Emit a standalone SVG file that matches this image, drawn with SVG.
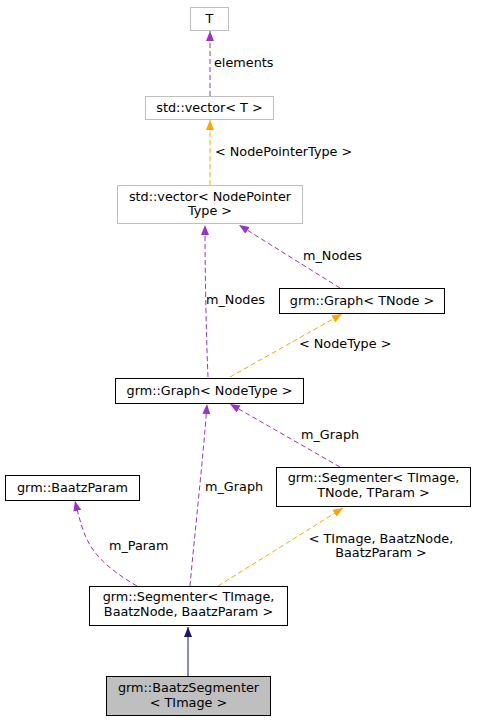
<svg xmlns="http://www.w3.org/2000/svg" width="477" height="723" viewBox="0 0 477 723">
<style>
text{font-family:"DejaVu Sans","Liberation Sans",sans-serif;font-size:12.8px;fill:#000}
.c{text-anchor:middle}
.n{fill:#fff;stroke:#000;stroke-width:1}
.g{fill:#fff;stroke:#bfbfbf;stroke-width:1}
.h{fill:#bfbfbf;stroke:#000;stroke-width:1}
.p{fill:none;stroke:#9a32cd;stroke-width:1;stroke-dasharray:5,3}
.o{fill:none;stroke:#ffa500;stroke-width:1;stroke-dasharray:5,3}
.s{fill:none;stroke:#191970;stroke-width:1}
</style>
<defs>
<marker id="ap" markerUnits="userSpaceOnUse" markerWidth="11" markerHeight="9" refX="10" refY="4" orient="auto"><path d="M0,0 L10,4 L0,8 z" fill="#9a32cd"/></marker>
<marker id="ao" markerUnits="userSpaceOnUse" markerWidth="11" markerHeight="9" refX="10" refY="4" orient="auto"><path d="M0,0 L10,4 L0,8 z" fill="#ffa500"/></marker>
<marker id="as" markerUnits="userSpaceOnUse" markerWidth="11" markerHeight="9" refX="10" refY="4" orient="auto"><path d="M0,0 L10,4 L0,8 z" fill="#191970"/></marker>
</defs>
<g id="edges">
<path class="p" d="M210,96 L210,31" marker-end="url(#ap)"/>
<text x="214" y="67">elements</text>
<path class="o" d="M210,185 L210,120" marker-end="url(#ao)"/>
<text x="215" y="156">&lt; NodePointerType &gt;</text>
<path class="p" d="M340,288 L239,225" marker-end="url(#ap)"/>
<text x="303" y="260">m_Nodes</text>
<path class="p" d="M208,377 C206,330 205,270 205,225" marker-end="url(#ap)"/>
<text x="206" y="304">m_Nodes</text>
<path class="o" d="M230,377 L342,314" marker-end="url(#ao)"/>
<text x="299" y="348">&lt; NodeType &gt;</text>
<path class="p" d="M340,467 L230,404" marker-end="url(#ap)"/>
<text x="301" y="439">m_Graph</text>
<path class="p" d="M190,586 C195,530 203,460 207,404" marker-end="url(#ap)"/>
<text x="205" y="491">m_Graph</text>
<path class="p" d="M137,586 C118,575 99,561 90,545 C84,535 80,522 75,501" marker-end="url(#ap)"/>
<text x="109" y="550">m_Param</text>
<path class="o" d="M218,586 L343,508" marker-end="url(#ao)"/>
<text class="c" x="381" y="543">&lt; TImage, BaatzNode,</text>
<text class="c" x="381" y="557">BaatzParam &gt;</text>
<path class="s" d="M188,676 L188,627" marker-end="url(#as)"/>
</g>
<g id="node_T"><rect class="g" x="190.5" y="7.5" width="38" height="23"/><text class="c" x="209.5" y="23">T</text></g>
<g id="node_vecT"><rect class="g" x="145.5" y="96.5" width="128" height="23"/><text class="c" x="209.5" y="112">std::vector&lt; T &gt;</text></g>
<g id="node_vecNP"><rect class="g" x="117.5" y="185.5" width="185" height="38"/><text class="c" x="210" y="201">std::vector&lt; NodePointer</text><text class="c" x="210" y="215">Type &gt;</text></g>
<g id="node_GraphTNode"><rect class="n" x="279.5" y="288.5" width="165" height="25"/><text class="c" x="362" y="305">grm::Graph&lt; TNode &gt;</text></g>
<g id="node_GraphNodeType"><rect class="n" x="115.5" y="378.5" width="188" height="25"/><text class="c" x="209.5" y="395">grm::Graph&lt; NodeType &gt;</text></g>
<g id="node_BaatzParam"><rect class="n" x="5.5" y="475.5" width="134" height="25"/><text class="c" x="72.5" y="492">grm::BaatzParam</text></g>
<g id="node_SegT"><rect class="n" x="276.5" y="467.5" width="194" height="39"/><text class="c" x="373.5" y="482">grm::Segmenter&lt; TImage,</text><text class="c" x="373.5" y="497">TNode, TParam &gt;</text></g>
<g id="node_SegBaatz"><rect class="n" x="89.5" y="586.5" width="198" height="39"/><text class="c" x="188.5" y="601">grm::Segmenter&lt; TImage,</text><text class="c" x="188.5" y="616">BaatzNode, BaatzParam &gt;</text></g>
<g id="node_BaatzSeg"><rect class="h" x="106.5" y="676.5" width="164" height="39"/><text class="c" x="188.5" y="692">grm::BaatzSegmenter</text><text class="c" x="188.5" y="707">&lt; TImage &gt;</text></g>
</svg>
